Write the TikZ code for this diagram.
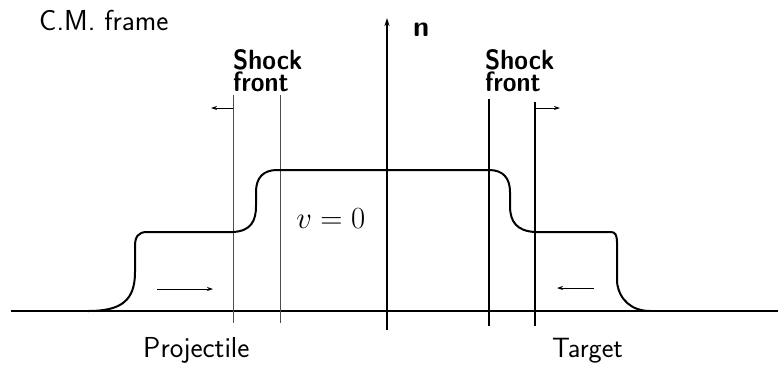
\documentclass[tikz,border=0pt]{standalone}
\usetikzlibrary{arrows.meta}
\begin{document}
\begin{tikzpicture}[x=1bp,y=-1bp,
  lbl/.style={inner sep=0pt,anchor=base west,font=\sffamily\fontsize{29}{29}\selectfont},
  shocklbl/.style={inner sep=0pt,anchor=base west,align=left,yscale=1.12,font=\sffamily\bfseries\fontsize{25}{17.5}\selectfont},
  curve/.style={line width=2bp,line join=round,line cap=round},
  axisline/.style={line width=1.6bp},
  front/.style={line width=1.4bp},
  thinfront/.style={line width=1bp,black!70},
  motion/.style={line width=0.9bp,-{Stealth[length=6bp,width=4bp]}}]
\useasboundingbox (0,0) rectangle (778,366);
% coordinates
\coordinate (b0) at (11,311);
\coordinate (b1) at (778,311);
\coordinate (ax0) at (387,330);
\coordinate (ax1) at (387,18);
\coordinate (lf1a) at (233,95);  \coordinate (lf1b) at (233,323);
\coordinate (lf2a) at (280,95);  \coordinate (lf2b) at (280,323);
\coordinate (rf1a) at (489,99);  \coordinate (rf1b) at (489,326);
\coordinate (rf2a) at (535,102); \coordinate (rf2b) at (535,326);
\coordinate (la0) at (233,108);  \coordinate (la1) at (211,108);
\coordinate (ra0) at (535,108);  \coordinate (ra1) at (560,108);
\coordinate (pa0) at (157,289);  \coordinate (pa1) at (213,289);
\coordinate (ta0) at (594,288);  \coordinate (ta1) at (557,288);
% axes
\draw[axisline] (b0) -- (b1);
\draw[axisline,-{Stealth[length=8bp,width=5bp]}] (ax0) -- (ax1);
% shock front lines
\draw[thinfront] (lf1a) -- (lf1b);
\draw[thinfront] (lf2a) -- (lf2b);
\draw[front] (rf1a) -- (rf1b);
\draw[front] (rf2a) -- (rf2b);
% front motion arrows
\draw[motion] (la0) -- (la1);
\draw[motion] (ra0) -- (ra1);
% density profile
\draw[curve] (88,311) .. controls (122,311) and (135,300) .. (135,272)
  -- (135,246) .. controls (135,237) and (138,232) .. (147,232)
  -- (233,232) .. controls (251,231) and (256,221) .. (256,206)
  -- (256,192) .. controls (256,178) and (263,170) .. (277,170)
  -- (489,170) .. controls (503,170) and (510,178) .. (510,192)
  -- (510,206) .. controls (510,222) and (517,231) .. (535,232)
  -- (611,232) .. controls (615,232) and (617,235) .. (617,242)
  -- (617,282) .. controls (619,300) and (632,311) .. (650,311);
% matter motion arrows
\draw[motion] (pa0) -- (pa1);
\draw[motion] (ta0) -- (ta1);
% labels
\node[lbl] (cm) at (39,30) {C.M. frame};
\node[lbl] (n) at (413,36) {\bfseries n};
\node[shocklbl] (s1) at (233,91) {Shock\\front};
\node[shocklbl] (s2) at (485,91) {Shock\\front};
\node[inner sep=0pt,anchor=base west,scale=1.24,font=\fontsize{24.88}{24.88}\selectfont] (v) at (296,228) {$v=0$};
\node[lbl] (p) at (143,357) {Projectile};
\node[lbl,font=\sffamily\fontsize{28}{28}\selectfont] (t) at (552,357) {Target};
\end{tikzpicture}
\end{document}
